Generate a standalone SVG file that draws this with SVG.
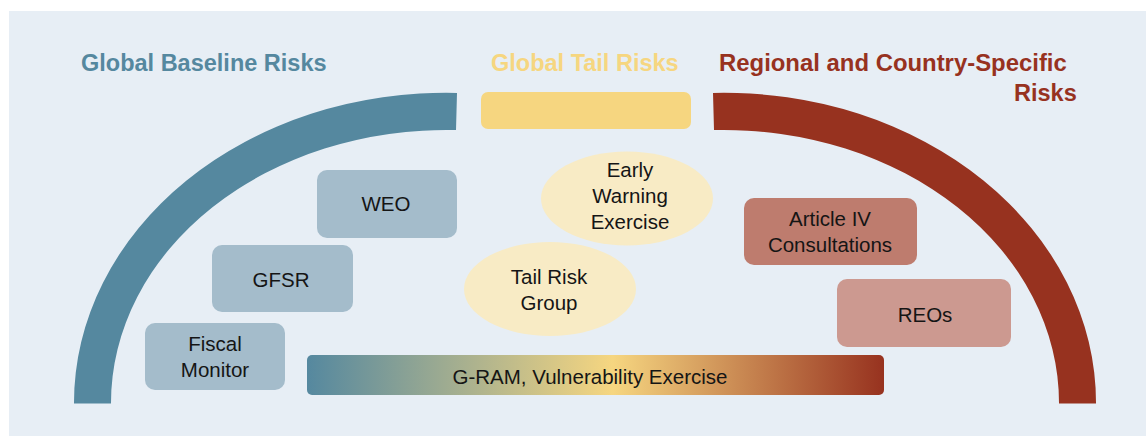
<svg xmlns="http://www.w3.org/2000/svg" width="1146" height="436" viewBox="0 0 1146 436">
<defs>
<linearGradient id="barGrad" x1="0" y1="0" x2="1" y2="0">
<stop offset="0" stop-color="#55889F"/>
<stop offset="0.53" stop-color="#F6D680"/>
<stop offset="1" stop-color="#97321F"/>
</linearGradient>
<style>
.title{font-family:"Liberation Sans",Arial,sans-serif;font-weight:bold;font-size:23.5px}
.lbl{font-family:"Liberation Sans",Arial,sans-serif;font-size:20.5px;fill:#151515;text-anchor:middle}
.blue{fill:#A4BCCB}
.ell{fill:#F8EBC5}
</style>
</defs>
<rect x="9" y="11" width="1137" height="425" fill="#E7EEF5"/>

<g id="arc-left">
<path d="M74,403.5 A372,310 0 0 1 457,92.9 L456,130.1 A335,273 0 0 0 111,403.5 Z" fill="#55889F"/>
</g>
<g id="arc-right">
<path d="M1096,403.5 A372,310 0 0 0 713,92.9 L714,130.1 A335,273 0 0 1 1059,403.5 Z" fill="#97321F"/>
</g>
<g id="tail-bar">
<rect x="481" y="92" width="210" height="37" rx="7" fill="#F6D680"/>
</g>

<g id="title-baseline">
<text class="title" x="81" y="71" fill="#55889F">Global Baseline Risks</text>
</g>
<g id="title-tail">
<text class="title" x="491" y="71" fill="#F6D680">Global Tail Risks</text>
</g>
<g id="title-regional">
<text class="title" x="719" y="71" fill="#97321F" style="font-size:23.9px">Regional and Country-Specific</text>
<text class="title" x="1014" y="100.5" fill="#97321F">Risks</text>
</g>

<g id="weo">
<rect class="blue" x="317" y="170" width="140" height="68" rx="10"/>
<text class="lbl" x="386" y="211">WEO</text>
</g>
<g id="gfsr">
<rect class="blue" x="212" y="245" width="141" height="67" rx="10"/>
<text class="lbl" x="281" y="287">GFSR</text>
</g>
<g id="fiscal-monitor">
<rect class="blue" x="145" y="323" width="140" height="67" rx="10"/>
<text class="lbl" x="215" y="351">Fiscal</text>
<text class="lbl" x="215" y="377">Monitor</text>
</g>

<g id="early-warning">
<ellipse class="ell" cx="627" cy="198.5" rx="86" ry="47"/>
<text class="lbl" x="630" y="177">Early</text>
<text class="lbl" x="630" y="203">Warning</text>
<text class="lbl" x="630" y="228.5">Exercise</text>
</g>
<g id="tail-risk-group">
<ellipse class="ell" cx="550" cy="289" rx="86" ry="47"/>
<text class="lbl" x="549" y="284">Tail Risk</text>
<text class="lbl" x="549" y="310">Group</text>
</g>

<g id="article-iv">
<rect x="744" y="198" width="173" height="67" rx="10" fill="#BE7C6E"/>
<text class="lbl" x="830" y="226">Article IV</text>
<text class="lbl" x="830" y="252">Consultations</text>
</g>
<g id="reos">
<rect x="837" y="279" width="174" height="68" rx="10" fill="#CC9990"/>
<text class="lbl" x="925" y="322">REOs</text>
</g>

<g id="g-ram">
<rect x="307" y="355" width="577" height="40" rx="5" fill="url(#barGrad)"/>
<text class="lbl" x="590" y="384">G-RAM, Vulnerability Exercise</text>
</g>

<g id="connectors"></g>
</svg>
